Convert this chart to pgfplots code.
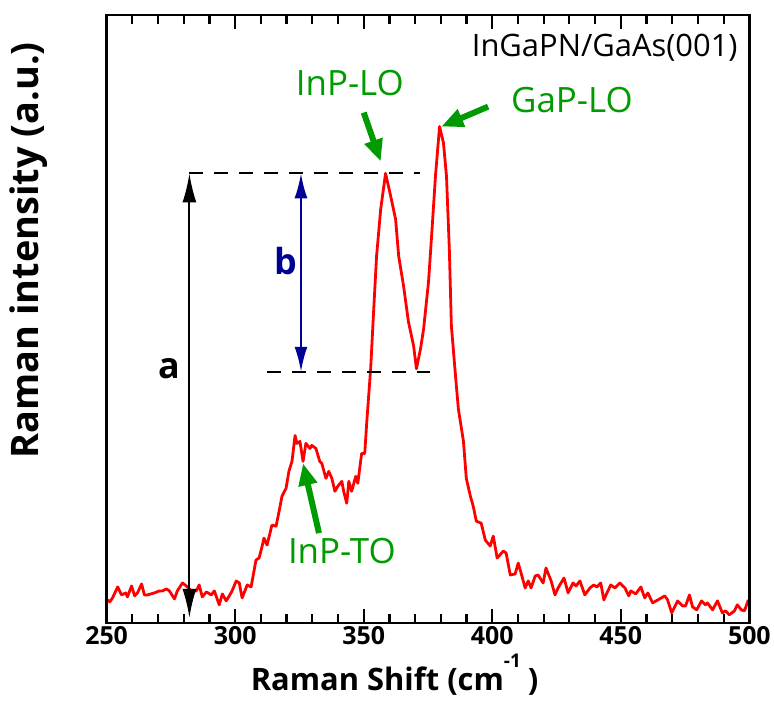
\documentclass[border=0pt]{standalone}
\usepackage{pgfplots}
\pgfplotsset{compat=1.18}
\usepackage{fontspec}
\setmainfont{Open Sans}
\usetikzlibrary{arrows.meta}
\definecolor{lblgreen}{RGB}{0,155,0}
\definecolor{bnavy}{RGB}{0,0,150}
\pgfplotstableread{
x y
250.4 23
251.2 21
252.3 25
254.3 36
255.8 28
257.4 30
258.1 26
259.7 37
260.9 27
262.0 30
263.6 39
264.7 28
265.9 28
268.6 30
270.5 32
271.7 32
273.3 34
274.4 32
276.4 24
277.5 32
279.5 40
281.0 37
282.9 32
284.9 32
286.0 38
287.2 26
288.8 31
290.7 28
291.9 32
293.8 18
295.0 29
296.5 22
297.7 27
298.8 32
300.4 42
301.6 40
302.7 25
304.7 38
306.2 36
308.1 63
309.3 65
310.5 77
311.2 85
312.4 78
314.3 98
315.9 97
317.1 112
318.2 127
319.8 135
320.9 152
322.1 162
323.3 188
324.0 180
325.2 182
326.4 162
327.5 180
329.1 175
329.8 178
331.4 175
332.9 162
333.7 160
335.3 145
336.4 152
337.6 145
338.8 132
339.9 137
341.5 142
342.2 132
343.4 120
344.2 142
345.3 132
346.9 147
347.7 140
349.2 170
350.4 170
351.2 202
352.7 255
353.9 315
355.0 368
356.6 415
358.5 451
360.5 428
362.4 405
363.6 368
365.5 338
367.4 302
369.4 278
370.5 255
372.1 275
373.3 295
375.2 342
376.4 388
377.9 448
379.5 498
381.0 482
382.2 448
383.3 375
384.1 298
385.7 248
386.8 215
388.8 182
389.9 145
391.5 127
392.6 117
393.8 102
395.7 100
397.3 83
399.2 77
400.4 87
401.9 65
404.3 72
405.4 70
407.0 48
408.9 49
410.1 60
411.2 50
412.8 35
414.0 42
415.1 35
416.7 47
417.8 48
419.8 40
420.9 55
422.9 42
424.4 28
425.6 35
427.9 45
429.5 30
431.4 40
432.6 37
434.1 42
436.0 28
438.0 35
439.5 38
440.7 36
442.2 40
443.4 23
444.6 30
446.1 38
447.7 35
449.6 40
451.6 35
453.1 27
453.9 32
455.8 29
457.8 36
459.3 25
460.5 30
462.4 20
465.1 24
467.1 27
468.2 23
469.8 10
472.1 22
474.0 17
475.2 17
476.7 28
477.9 16
479.5 13
481.4 22
482.9 18
483.7 20
485.7 13
487.6 22
489.5 10
490.7 12
492.2 8
494.2 12
495.3 18
496.9 13
498.1 12
499.6 23
}\spectrum
\pgfplotsset{frame/.style={
  at={(0pt,0pt)}, anchor=south west,
  scale only axis,
  width=645pt, height=610pt,
  xmin=250, xmax=500, ymin=0, ymax=610,
  xtick={250,300,350,400,450,500},
  minor x tick num=4,
  ytick=\empty,
  tick align=inside,
  major tick length=14pt,
  minor tick length=9pt,
  xtick style={draw=black, line width=2.2pt},
  axis line style={line width=2.6pt}}}
\begin{document}
\begin{tikzpicture}
\path (-107pt,-88pt) rectangle (667pt,625pt);
\begin{axis}[
  frame,
  xticklabels={250,300,350,400,450,500},
  ticklabel style={font=\fontsize{25}{25}\selectfont\bfseries},
  xlabel={Raman Shift (cm\raisebox{0.75em}{\fontsize{19}{19}\selectfont -1}\hspace{7pt})},
  ylabel={Raman intensity (a.u.)},
  xlabel style={font=\fontsize{31}{31}\selectfont\bfseries, at={(axis description cs:0.448,0)}, anchor=north, yshift=-28pt},
  ylabel style={font=\fontsize{38}{38}\selectfont\bfseries, at={(axis description cs:-0.122,0.613)}, anchor=center, rotate=0},
]
\addplot[red, line width=2.8pt, line join=round] table[x=x,y=y] {\spectrum};
% dashed guide lines
\draw[black, line width=2pt, dash pattern=on 14pt off 11pt] (axis cs:282.2,451) -- (axis cs:372,451);
\draw[black, line width=2pt, dash pattern=on 14pt off 11pt] (axis cs:312.4,252) -- (axis cs:378.3,252);
% a arrow
\draw[black, line width=2pt, {Latex[length=29pt,width=14pt]}-{Latex[length=29pt,width=14pt]}] (axis cs:282.2,451) -- (axis cs:282.2,5);
\node[font=\fontsize{36}{36}\selectfont\bfseries] at (axis cs:274.4,255) {a};
% b arrow
\draw[bnavy, line width=2pt, {Latex[length=25pt,width=13pt]}-{Latex[length=25pt,width=13pt]}] (axis cs:325.6,451) -- (axis cs:325.6,252);
\node[bnavy, font=\fontsize{36}{36}\selectfont\bfseries] at (axis cs:319.8,363) {b};
% title text
\node[anchor=east, font=\fontsize{31}{31}\selectfont] at (axis cs:496.8,577) {InGaPN/GaAs(001)};
% green labels and arrows
\node[lblgreen, font=\fontsize{35}{35}\selectfont] at (axis cs:344.6,542) {InP-LO};
\node[lblgreen, font=\fontsize{35}{35}\selectfont] at (axis cs:431.0,525) {GaP-LO};
\node[lblgreen, font=\fontsize{35}{35}\selectfont] at (axis cs:341.5,72) {InP-TO};
\draw[lblgreen, line width=6pt, -{Triangle[length=22pt,width=18pt]}] (axis cs:350.0,512) -- (axis cs:356.6,463);
\draw[lblgreen, line width=6pt, -{Triangle[length=22pt,width=18pt]}] (axis cs:398.4,518) -- (axis cs:380.2,498);
\draw[lblgreen, line width=6pt, -{Triangle[length=22pt,width=18pt]}] (axis cs:332.6,90) -- (axis cs:326.4,160);
\end{axis}
% overlay axis: frame and tick marks only
\begin{axis}[frame, xticklabels={}]
\end{axis}
\end{tikzpicture}
\end{document}
